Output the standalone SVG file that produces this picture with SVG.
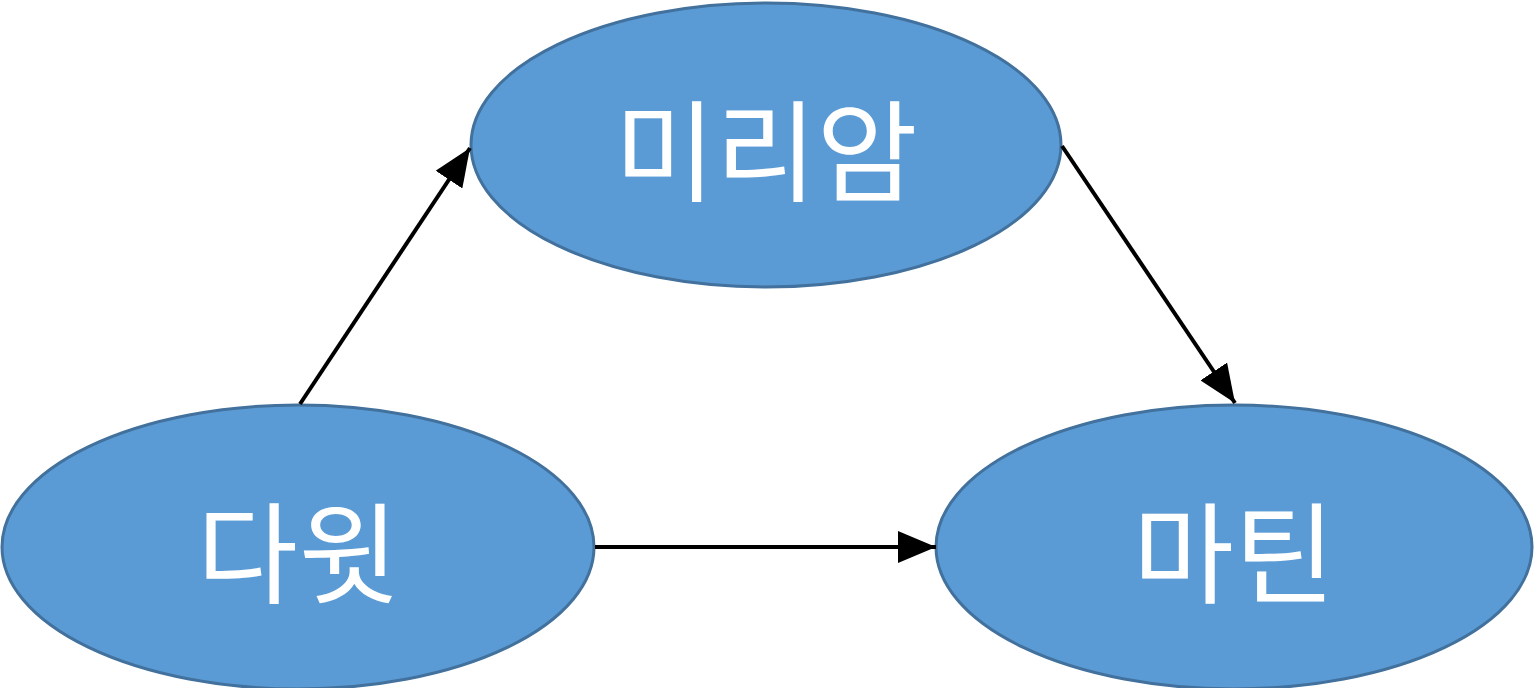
<svg xmlns="http://www.w3.org/2000/svg" width="1536" height="688" viewBox="0 0 1536 688">
<defs>
<style>
.n{fill:#5b9bd5;stroke:#41719c;stroke-width:3}
.t{fill:#fff;font-family:"Noto Sans CJK KR",sans-serif;font-size:110px;text-anchor:middle;dominant-baseline:central}
.c{stroke:#000;stroke-width:4;fill:none;marker-end:url(#a)}
</style>
<marker id="a" viewBox="0 0 10 10" refX="10" refY="5" markerWidth="38" markerHeight="32" markerUnits="userSpaceOnUse" orient="auto" preserveAspectRatio="none"><path d="M0,0L10,5L0,10z" fill="#000"/></marker>
</defs>
<rect width="1536" height="688" fill="#fff"/>
<g id="n1"><ellipse class="n" cx="766" cy="145" rx="295" ry="142"/><text class="t" x="766" y="145">미리암</text></g>
<g id="n2"><ellipse class="n" cx="298" cy="547" rx="296" ry="142"/><text class="t" x="298" y="547">다윗</text></g>
<g id="n3"><ellipse class="n" cx="1234" cy="547" rx="298" ry="142"/><text class="t" x="1234" y="547">마틴</text></g>
<g id="connectors">
<path class="c" d="M300,404L470,148"/>
<path class="c" d="M1062,146L1235,403"/>
<path class="c" d="M595,547L936,547"/>
</g>
</svg>
